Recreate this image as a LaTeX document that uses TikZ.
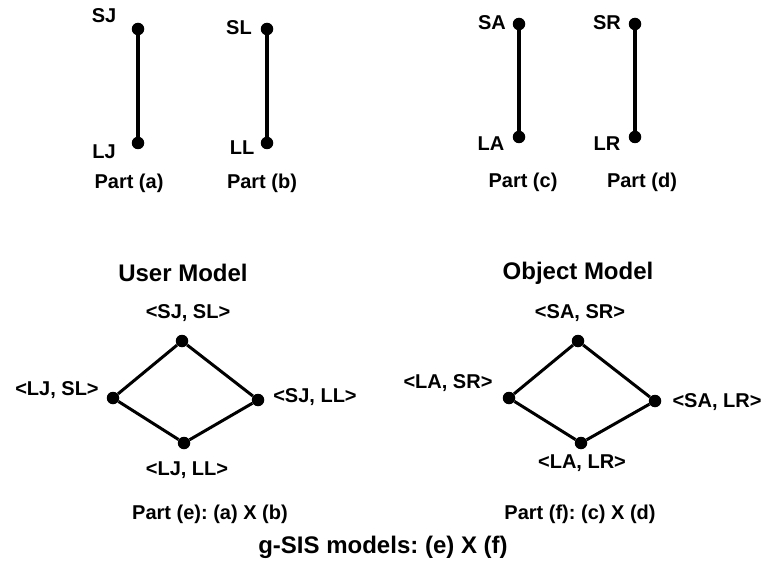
\documentclass[tikz,border=0pt]{standalone}
\usepackage{fontspec}
\setmainfont{Liberation Sans}

\begin{document}
\frenchspacing
\begin{tikzpicture}[x=1bp,y=-1bp,
	dot/.style={circle,fill,inner sep=0pt,minimum size=12.5bp},
	lab/.style={font=\fontsize{20bp}{24bp}\selectfont\bfseries},
	ttl/.style={font=\fontsize{24bp}{28bp}\selectfont\bfseries},
	bar/.style={line width=4bp},
	rim/.style={line width=3bp}]
			\useasboundingbox (0,0) rectangle (766,581);
			
			% the four chains
			\node[dot] (sj) at (138,29) {}; \node[dot] (lj) at (138,143) {}; \draw[bar] (sj) -- (lj);
			\node[lab] (sjl) at (104,16) {SJ}; \node[lab] (ljl) at (104,152) {LJ};
			\node[lab] (pa) at (129,183) {Part (a)};
			
			\node[dot] (sl) at (267,29) {}; \node[dot] (ll) at (267,143) {}; \draw[bar] (sl) -- (ll);
			\node[lab] (sll) at (239,28) {SL}; \node[lab] (lll) at (242,148) {LL};
			\node[lab] (pb) at (262,183) {Part (b)};
			
			\node[dot] (sa) at (519,24) {}; \node[dot] (la) at (519,137) {}; \draw[bar] (sa) -- (la);
			\node[lab] (sal) at (492,23) {SA}; \node[lab] (lal) at (491,144) {LA};
			\node[lab] (pc) at (523,182) {Part (c)};
			
			\node[dot] (sr) at (635,24) {}; \node[dot] (lr) at (635,137) {}; \draw[bar] (sr) -- (lr);
			\node[lab] (srl) at (607,23) {SR}; \node[lab] (lrl) at (607,144) {LR};
			\node[lab] (pd) at (642,182) {Part (d)};
			
			% user model
			\node[ttl] (um) at (183,273) {User Model};
			\node[dot] (u1) at (182,341) {}; \node[dot] (u2) at (113,398) {};
			\node[dot] (u3) at (258,400) {}; \node[dot] (u4) at (184,443) {};
			\draw[rim] (u1) -- (u2) -- (u4) -- (u3) -- (u1);
			\node[lab] at (188,313) {<SJ, SL>}; \node[lab] at (57,390) {<LJ, SL>};
			\node[lab] at (315,397) {<SJ, LL>}; \node[lab] at (187,470) {<LJ, LL>};
			\node[lab] (pe) at (210,514) {Part (e): (a) X (b)};
			
			% object model
			\node[ttl] (om) at (578,273) {Object Model};
			\node[dot] (o1) at (578,341) {}; \node[dot] (o2) at (509,398) {};
			\node[dot] (o3) at (655,401) {}; \node[dot] (o4) at (581,443) {};
			\draw[rim] (o1) -- (o2) -- (o4) -- (o3) -- (o1);
			\node[lab] at (580,313) {<SA, SR>}; \node[lab] at (448,383) {<LA, SR>};
			\node[lab] at (717,402) {<SA, LR>}; \node[lab] at (582,463) {<LA, LR>};
			\node[lab] (pf) at (580,514) {Part (f): (c) X (d)};
			
			\node[ttl] (gs) at (383,547) {g-SIS models: (e) X (f)};
\end{tikzpicture}
\end{document}
